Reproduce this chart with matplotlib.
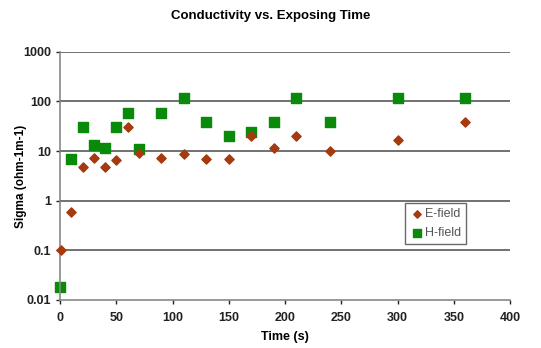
import matplotlib
matplotlib.use("Agg")
import matplotlib.pyplot as plt

plt.rcParams['font.family'] = ['Liberation Sans', 'DejaVu Sans']

# E-field
e_time = [1, 10, 20, 30, 40, 50, 60, 70, 90, 110, 130, 150, 170, 190, 210, 240, 300, 360]
e_sigma = [0.1, 0.6, 4.7, 7.1, 4.8, 6.6, 30, 9, 7.2, 8.8, 6.9, 6.9, 20, 11.5, 20, 10, 17, 38]

# H-field
h_time = [0, 10, 20, 30, 40, 50, 60, 70, 90, 110, 130, 150, 170, 190, 210, 240, 300, 360]
h_sigma = [0.018, 6.8, 30, 13, 11.6, 30, 59, 10.8, 59, 120, 38, 20, 24, 38, 120, 38, 120, 120]

x_ticks = [0, 50, 100, 150, 200, 250, 300, 350, 400]
y_ticks = [0.01, 0.1, 1, 10, 100, 1000]
y_labels = ['0.01', '0.1', '1', '10', '100', '1000']

fig = plt.figure(figsize=(5.41, 3.48), dpi=100)
ax = fig.add_axes([0.111, 0.138, 0.832, 0.713])

ax.set_yscale('log')
ax.set_xlim(0, 400)
ax.set_ylim(0.01, 1000)

for y in y_ticks[1:]:
    ax.axhline(y, color='#666666', lw=1.3, zorder=0)

ax.scatter(e_time, e_sigma, marker='D', s=22, color='#a63a0f', label='E-field', zorder=3, clip_on=False)
ax.scatter(h_time, h_sigma, marker='s', s=45, color='#0a8a0a', label='H-field', zorder=2, clip_on=False)

ax.set_xticks(x_ticks)
ax.set_yticks(y_ticks)
ax.set_yticklabels(y_labels)
ax.minorticks_off()
ax.tick_params(axis='both', labelsize=9, colors='#222222', length=3, width=1)
ax.tick_params(axis='x', pad=6)
for lab in ax.get_xticklabels() + ax.get_yticklabels():
    lab.set_fontweight('bold')

for s in ['top', 'right']:
    ax.spines[s].set_visible(False)
for s in ['left', 'bottom']:
    ax.spines[s].set_color('#888888')
    ax.spines[s].set_linewidth(1.2)

ax.set_xlabel('Time (s)', fontsize=9, fontweight='bold', labelpad=5)
ax.set_ylabel('Sigma (ohm-1m-1)', fontsize=8.5, fontweight='bold')
ax.yaxis.set_label_coords(-0.074, 0.5)
fig.suptitle('Conductivity vs. Exposing Time', fontsize=9.5, fontweight='bold', y=0.97)

leg = ax.legend(loc='upper left', bbox_to_anchor=(0.767, 0.39), fontsize=9,
                frameon=True, fancybox=False, edgecolor='#444444',
                borderaxespad=0, handletextpad=0.2, borderpad=0.4, labelspacing=0.55,
                handlelength=1.0, markerscale=0.8)
leg.get_frame().set_linewidth(1.0)
for t in leg.get_texts():
    t.set_color('#555555')

fig.savefig('out.png', dpi=100)
